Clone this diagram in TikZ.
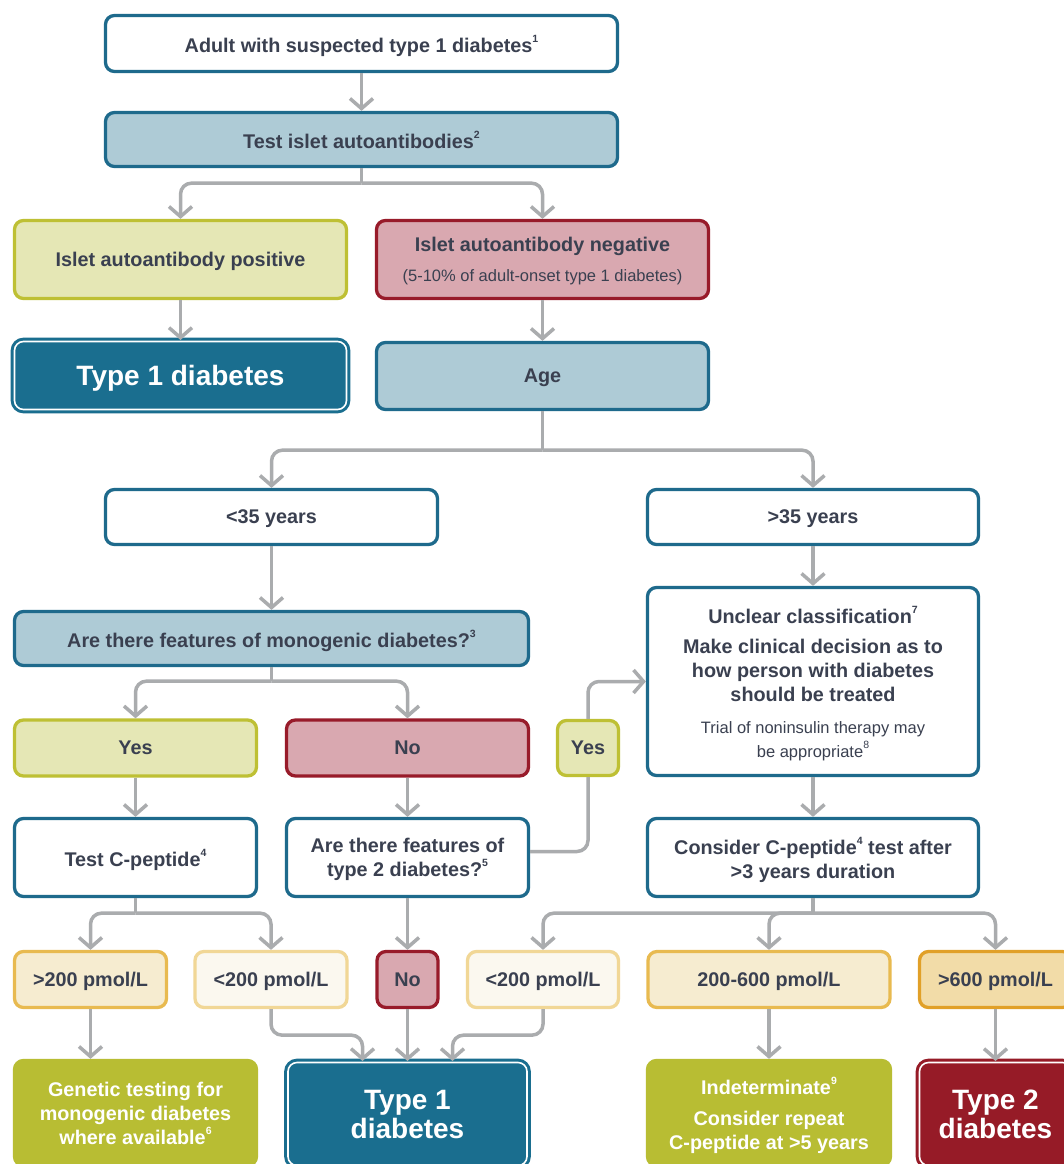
\documentclass[tikz,border=0pt]{standalone}
\usepackage{fontspec}
\setmainfont{Liberation Sans}
\usetikzlibrary{arrows.meta}
\definecolor{txt}{RGB}{58,64,80}
\definecolor{bstroke}{RGB}{30,106,140}
\definecolor{lblue}{RGB}{174,203,214}
\definecolor{tblue}{RGB}{26,110,143}
\definecolor{gfill}{RGB}{229,231,181}
\definecolor{gstroke}{RGB}{190,192,52}
\definecolor{pfill}{RGB}{217,168,176}
\definecolor{pstroke}{RGB}{152,27,42}
\definecolor{olive}{RGB}{184,189,51}
\definecolor{dred}{RGB}{150,27,39}
\definecolor{oafill}{RGB}{246,236,208}
\definecolor{oastroke}{RGB}{232,186,80}
\definecolor{obfill}{RGB}{251,248,239}
\definecolor{obstroke}{RGB}{241,215,150}
\definecolor{ocfill}{RGB}{242,220,168}
\definecolor{ocstroke}{RGB}{225,160,40}
\definecolor{conncol}{RGB}{170,172,174}
\newcommand\fnmark[1]{\raisebox{0.5em}{\fontsize{10.5}{10}\selectfont #1}}
\tikzset{
  box/.style={rounded corners=9pt, line width=3.3pt, align=center, inner sep=0pt, text=txt,
    text depth=0pt, font=\bfseries\fontsize{19.8}{24}\selectfont},
  wbox/.style={box, draw=bstroke, fill=white},
  lbbox/.style={box, draw=bstroke, fill=lblue},
  gbox/.style={box, draw=gstroke, fill=gfill},
  pbox/.style={box, draw=pstroke, fill=pfill},
  oabox/.style={box, draw=oastroke, fill=oafill},
  obbox/.style={box, draw=obstroke, fill=obfill},
  ocbox/.style={box, draw=ocstroke, fill=ocfill},
  finalbox/.style={box, line width=3pt, double=white, double distance=1.6pt, text=white,
    font=\bfseries\fontsize{28}{29}\selectfont},
  t1box/.style={finalbox, draw=tblue, fill=tblue},
  t2box/.style={finalbox, draw=dred, fill=dred},
  olbox/.style={box, draw=olive, fill=olive, text=white},
  conn/.style={draw=conncol, line width=3.5pt, rounded corners=11pt},
  arr/.style={conn, -{Straight Barb[length=10pt,width=23pt]}},
  sz/.style 2 args={minimum width=#1pt-3pt, minimum height=#2pt-3pt}
}
\begin{document}
\begin{tikzpicture}[x=1pt,y=-1pt]
\useasboundingbox (0,0) rectangle (1064,1164);
\clip (0,0) rectangle (1064,1164);
\fill[white] (0,0) rectangle (1064,1164);

\node[wbox, sz={515}{59}] (top) at (361.5,43.5) {Adult with suspected type 1 diabetes\fnmark{1}};
\node[lbbox, sz={515}{57}] (test) at (361.5,139.5) {Test islet autoantibodies\fnmark{2}};
\node[gbox, sz={335}{81}] (pos) at (180.5,259.5) {Islet autoantibody positive};
\node[pbox, sz={335}{81}] (neg) at (542.5,259.5) {Islet autoantibody negative\\[6pt]{\mdseries\fontsize{16.5}{20}\selectfont (5-10\% of adult-onset type 1 diabetes)}};
\node[t1box, sz={335}{71}] (t1a) at (180.5,375.5) {Type 1 diabetes};
\node[lbbox, sz={335}{70}] (age) at (542.5,376) {Age};
\node[wbox, sz={335}{58}] (lt35) at (271.5,517) {<35 years};
\node[wbox, sz={334}{58}] (gt35) at (813,517) {>35 years};
\node[lbbox, sz={517}{57}] (mono) at (271.5,638.5) {Are there features of monogenic diabetes?\fnmark{3}};
\node[gbox, sz={245}{59}] (yes1) at (135.5,748) {Yes};
\node[pbox, sz={245}{59}] (no1) at (407.5,748) {No};
\node[gbox, sz={64}{58}] (yes2) at (588,748) {Yes};
\node[wbox, sz={334}{191}] (unclear) at (813,681.5) {Unclear classification\fnmark{7}\\[6pt]Make clinical decision as to\\how person with diabetes\\should be treated\\[8pt]{\mdseries\fontsize{16.5}{20}\selectfont Trial of noninsulin therapy may}\\{\mdseries\fontsize{16.5}{20}\selectfont be appropriate\fnmark{8}}};
\node[wbox, sz={245}{81}] (tcp) at (135.5,857.5) {Test C-peptide\fnmark{4}};
\node[wbox, sz={245}{81}] (t2f) at (407.5,857.5) {Are there features of\\type 2 diabetes?\fnmark{5}};
\node[wbox, sz={334}{81}] (consider) at (813,857.5) {Consider C-peptide\fnmark{4} test after\\>3 years duration};
\node[oabox, sz={155}{59}] (gt200) at (90.5,979.5) {>200 pmol/L};
\node[obbox, sz={155}{59}] (lt200a) at (271,979.5) {<200 pmol/L};
\node[pbox, sz={64}{59}] (no2) at (407.5,979.5) {No};
\node[obbox, sz={154}{59}] (lt200b) at (543,979.5) {<200 pmol/L};
\node[oabox, sz={245}{59}] (mid) at (769,979.5) {200-600 pmol/L};
\node[ocbox, sz={155}{59}] (hi) at (995.5,979.5) {>600 pmol/L};
\node[olbox, sz={245}{108}] (gen) at (135.5,1113) {Genetic testing for\\monogenic diabetes\\where available\fnmark{6}};
\node[t1box, sz={242}{106}] (t1b) at (407.5,1114) {Type 1\\diabetes};
\node[olbox, sz={246}{108}] (ind) at (769,1113) {Indeterminate\fnmark{9}\\[7pt]Consider repeat\\C-peptide at >5 years};
\node[t2box, sz={155}{106}] (t2b) at (995.5,1114) {Type 2\\diabetes};

% connectors
\draw[arr] (top.south) -- (test.north);
\draw[conn] (test.south) -- ++(0,15) coordinate (j1);
\draw[arr] (j1) -| (pos.north);
\draw[arr] (j1) -| (neg.north);
\draw[arr] (pos.south) -- (t1a.north);
\draw[arr] (neg.south) -- (age.north);
\draw[conn] (age.south) -- ++(0,39) coordinate (j2);
\draw[arr] (j2) -| (lt35.north);
\draw[arr] (j2) -| (gt35.north);
\draw[arr] (lt35.south) -- (mono.north);
\draw[arr] (gt35.south) -- (unclear.north);
\draw[conn] (mono.south) -- ++(0,14) coordinate (j3);
\draw[arr] (j3) -| (yes1.north);
\draw[arr] (j3) -| (no1.north);
\draw[arr] (yes1.south) -- (tcp.north);
\draw[arr] (no1.south) -- (t2f.north);
\draw[arr] (unclear.south) -- (consider.north);
\draw[conn] ([yshift=6pt]t2f.east) -| (yes2.south);
\draw[arr] (yes2.north) |- (unclear.west);
\draw[conn] (tcp.south) -- ++(0,15) coordinate (j4);
\draw[arr] (j4) -| (gt200.north);
\draw[arr] (j4) -| (lt200a.north);
\draw[arr] (t2f.south) -- (no2.north);
\draw[conn] (consider.south) -- ++(0,15) coordinate (j5);
\draw[arr] (j5) -| (lt200b.north);
\draw[arr] (j5) -| (mid.north);
\draw[arr] (j5) -| (hi.north);
\draw[arr] (gt200.south) -- (gt200.south |- gen.north);
\draw[arr] (lt200a.south) -- ++(0,26) -| ([xshift=-45pt]t1b.north);
\draw[arr] (no2.south) -- (t1b.north);
\draw[arr] (lt200b.south) -- ++(0,26) -| ([xshift=45pt]t1b.north);
\draw[arr] (mid.south) -- (ind.north);
\draw[arr] (hi.south) -- (t2b.north);
\end{tikzpicture}
\end{document}
